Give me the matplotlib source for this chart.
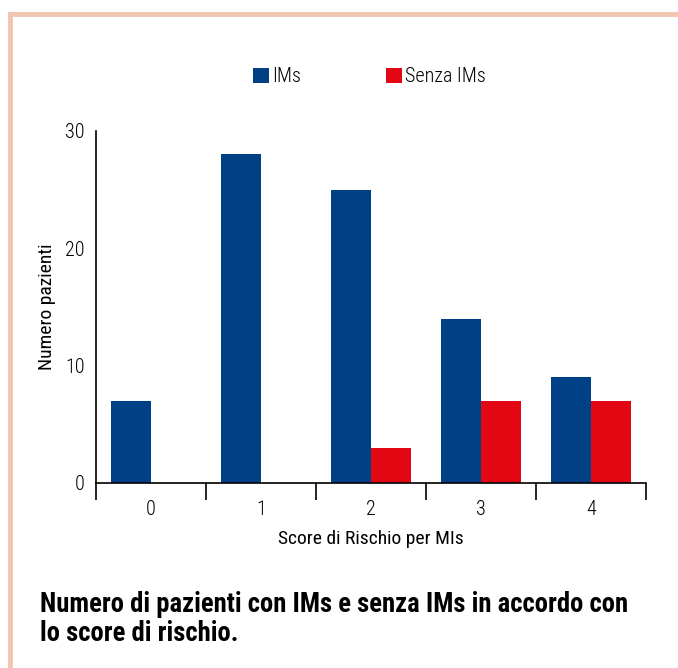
import numpy as np
import matplotlib
matplotlib.use('Agg')
from matplotlib import pyplot as plt
from matplotlib.lines import Line2D

plt.rcParams['font.family'] = ['Roboto Condensed', 'DejaVu Sans']
plt.rcParams['font.weight'] = 300

categories = ['0', '1', '2', '3', '4']
con_ims = [7, 28, 25, 14, 9]
senza_ims = [0, 0, 3, 7, 7]
yticks = [0, 10, 20, 30]

blue = '#004185'
red = '#e30613'
border = '#f2c5b1'

fig = plt.figure(figsize=(6.78, 6.68), dpi=100)
W, H = 678, 668

# cornice in alto e a sinistra
fig.add_artist(Line2D([10/W, 1], [1-14/H, 1-14/H], color=border, lw=3.5))
fig.add_artist(Line2D([10/W, 10/W], [0, 1-14/H], color=border, lw=3.5))

ax = fig.add_axes([96/W, 1-483/H, (646-96)/W, (483-131)/H])
x = np.arange(len(categories))
w = 40/110
ax.bar(x - w/2, con_ims, w, color=blue, label='IMs')
ax.bar(x + w/2, senza_ims, w, color=red, label='Senza IMs')

ax.set_xlim(-0.5, len(categories) - 0.5)
ax.set_ylim(0, 30)
ax.set_yticks(yticks)
ax.tick_params(axis='y', length=0, labelsize=14.5, pad=8)
ax.set_xticks(x)
ax.set_xticklabels(categories)
ax.set_xticks(np.arange(-0.5, len(categories)), minor=True)
ax.tick_params(axis='x', which='major', length=0, labelsize=14.5, pad=12)
ax.tick_params(axis='x', which='minor', length=12, width=1.2, direction='out')
for s in ['top', 'right']:
    ax.spines[s].set_visible(False)
for s in ['left', 'bottom']:
    ax.spines[s].set_linewidth(1.2)

ax.set_ylabel('Numero pazienti', fontsize=14, labelpad=7)
ax.set_xlabel('Score di Rischio per MIs', fontsize=14, labelpad=8)

ax.legend(loc='lower center', bbox_to_anchor=(0.497, 1.075), ncol=2, frameon=False,
          fontsize=14.5, handlelength=0.8, handleheight=0.8, handletextpad=0.15,
          columnspacing=4.2)

fig.text(40/W, 1-619/H, 'Numero di pazienti con IMs e senza IMs in accordo con\nlo score di rischio.',
         fontsize=19.2, fontweight='bold', va='center', ha='left', linespacing=1.08)

fig.savefig('out.png', dpi=100)
